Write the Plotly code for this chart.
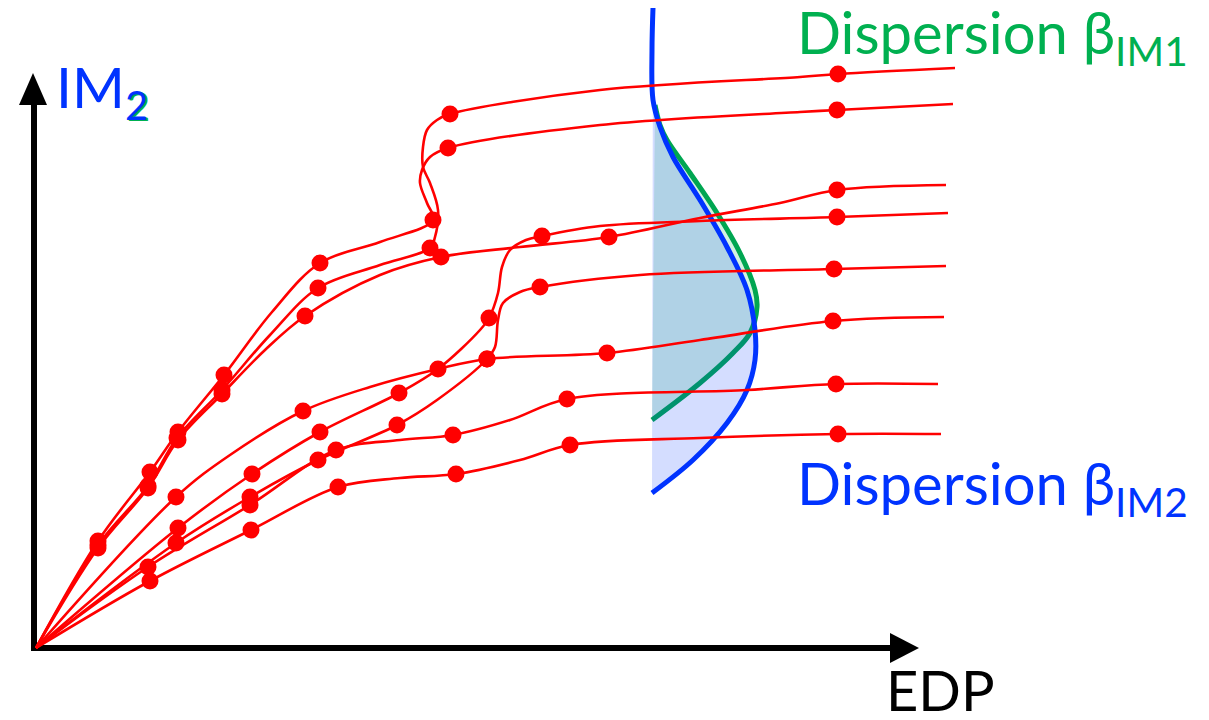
import plotly.graph_objects as go

# ---- IDA curves (EDP vs IM), knots along each curve and the indices of analysis points ----
ida1_edp = [0, 62, 114, 142, 188, 236, 284, 344, 397, 391, 384, 386, 394, 412, 564, 764, 801, 917]
ida1_im = [0, 107, 176, 216, 273, 336, 385, 406, 428, 445, 465, 478, 491, 500, 523, 536, 538, 544]
ida1_dots = [1, 2, 3, 4, 6, 8, 13, 16]

ida2_edp = [0, 62, 112, 141, 186, 234, 282, 344, 394, 399, 402, 394, 387, 387, 391, 401, 414, 564, 764, 802, 919]
ida2_im = [0, 103, 162, 210, 258, 313, 360, 383, 400, 411, 438, 465, 481, 501, 518, 528, 534, 558, 571, 574, 580]
ida2_dots = [1, 2, 3, 4, 6, 8, 16, 19]

ida3_edp = [0, 62, 112, 142, 186, 229, 269, 344, 405, 484, 573, 664, 744, 801, 910]
ida3_im = [0, 100, 160, 208, 254, 298, 332, 373, 391, 401, 411, 430, 445, 458, 463]
ida3_dots = [1, 2, 3, 4, 6, 8, 10, 13]

ida4_edp = [0, 140, 194, 267, 334, 402, 451, 571, 664, 797, 908]
ida4_im = [0, 151, 193, 237, 261, 279, 289, 295, 308, 327, 331]
ida4_dots = [1, 3, 5, 6, 7, 9]

ida5_edp = [0, 142, 216, 284, 363, 402, 444, 453, 462, 466, 474, 490, 506, 564, 664, 801, 912]
ida5_im = [0, 120, 174, 216, 255, 279, 318, 330, 355, 381, 398, 408, 412, 422, 427, 431, 435]
ida5_dots = [1, 2, 3, 4, 7, 12, 15]

ida6_edp = [0, 140, 214, 282, 361, 401, 451, 459, 462, 467, 484, 504, 604, 798, 910]
ida6_im = [0, 105, 151, 188, 223, 248, 289, 301, 328, 345, 356, 361, 373, 379, 382]
ida6_dots = [1, 2, 3, 4, 6, 11, 13]

ida7_edp = [0, 112, 214, 300, 364, 417, 474, 531, 711, 800, 902]
ida7_im = [0, 81, 143, 198, 208, 213, 228, 249, 258, 264, 264]
ida7_dots = [1, 2, 3, 5, 7, 9]

ida8_edp = [0, 114, 215, 302, 364, 420, 484, 534, 664, 802, 905]
ida8_im = [0, 67, 118, 161, 170, 174, 188, 203, 210, 214, 214]
ida8_dots = [1, 2, 3, 5, 7, 9]

# ---- IM distributions drawn sideways at a fixed EDP ----
beta_im1_edp = [619, 624, 631, 654, 681, 704, 719, 721, 714, 697, 664, 616]
beta_im1_im = [543, 523, 508, 475, 435, 395, 358, 341, 315, 295, 265, 228]

beta_im2_edp = [617, 616, 617, 624, 637, 664, 691, 711, 719, 719, 711, 691, 657, 616]
beta_im2_im = [640, 598, 548, 521, 491, 448, 401, 358, 318, 288, 258, 225, 188, 155]

curves = [
    (ida1_edp, ida1_im, ida1_dots),
    (ida2_edp, ida2_im, ida2_dots),
    (ida3_edp, ida3_im, ida3_dots),
    (ida4_edp, ida4_im, ida4_dots),
    (ida5_edp, ida5_im, ida5_dots),
    (ida6_edp, ida6_im, ida6_dots),
    (ida7_edp, ida7_im, ida7_dots),
    (ida8_edp, ida8_im, ida8_dots),
]

RED = "#FF0000"
GREEN_TXT = "#00B050"
GREEN_LINE = "#00A651"
BLUE = "#0033FF"
FONT = "Lato"

fig = go.Figure()

# distributions: green first so the blue fill tints it where they overlap
fig.add_trace(go.Scatter(
    x=beta_im1_edp, y=beta_im1_im, mode="lines", fill="toself",
    fillcolor="rgba(0,176,80,0.17)",
    line=dict(color=GREEN_LINE, width=5, shape="spline", smoothing=1.0),
    hoverinfo="skip", showlegend=False,
))
fig.add_trace(go.Scatter(
    x=beta_im2_edp, y=beta_im2_im, mode="lines", fill="toself",
    fillcolor="rgba(0,51,255,0.17)",
    line=dict(color=BLUE, width=5, shape="spline", smoothing=1.0),
    hoverinfo="skip", showlegend=False,
))

for edp, im, dots in curves:
    fig.add_trace(go.Scatter(
        x=edp, y=im, mode="lines",
        line=dict(color=RED, width=2.6, shape="spline", smoothing=1.0),
        hoverinfo="skip", showlegend=False,
    ))
for edp, im, dots in curves:
    fig.add_trace(go.Scatter(
        x=[edp[i] for i in dots], y=[im[i] for i in dots], mode="markers",
        marker=dict(color=RED, size=17, line=dict(width=0)),
        hoverinfo="skip", showlegend=False,
    ))

# axis arrows
shapes = [
    dict(type="line", x0=-2, y0=-3, x1=-2, y1=548, line=dict(color="black", width=6), layer="below"),
    dict(type="path", path="M -17,543 L 11,543 L -3,575 Z", fillcolor="black",
         line=dict(color="black", width=0), layer="below"),
    dict(type="line", x0=-5, y0=0, x1=860, y1=0, line=dict(color="black", width=6), layer="below"),
    dict(type="path", path="M 854,-15 L 854,15 L 883,0 Z", fillcolor="black",
         line=dict(color="black", width=0), layer="below"),
]


def px(xp, yp):
    return xp / 1209, 1 - yp / 720


annotations = []
# IM2 label (with the green "2" sitting just behind the blue one)
ax, ay = px(54, 90)
annotations.append(dict(
    x=ax, y=ay, xref="paper", yref="paper", xanchor="left", yanchor="middle",
    text='<span style="color:rgba(0,0,0,0)">IM</span><sub>2</sub>', showarrow=False,
    font=dict(family=FONT, size=57, color=GREEN_TXT), xshift=2, yshift=-1,
))
annotations.append(dict(
    x=ax, y=ay, xref="paper", yref="paper", xanchor="left", yanchor="middle",
    text="IM<sub>2</sub>", showarrow=False,
    font=dict(family=FONT, size=57, color=BLUE),
))
ax, ay = px(795, 36)
annotations.append(dict(
    x=ax, y=ay, xref="paper", yref="paper", xanchor="left", yanchor="middle",
    text="Dispersion β<sub>IM1</sub>", showarrow=False,
    font=dict(family=FONT, size=58, color=GREEN_TXT),
))
ax, ay = px(795, 487)
annotations.append(dict(
    x=ax, y=ay, xref="paper", yref="paper", xanchor="left", yanchor="middle",
    text="Dispersion β<sub>IM2</sub>", showarrow=False,
    font=dict(family=FONT, size=58, color=BLUE),
))
ax, ay = px(884, 689)
annotations.append(dict(
    x=ax, y=ay, xref="paper", yref="paper", xanchor="left", yanchor="middle",
    text="EDP", showarrow=False,
    font=dict(family=FONT, size=56, color="black"),
))

fig.update_layout(
    width=1209, height=720,
    margin=dict(l=0, r=0, t=0, b=0),
    paper_bgcolor="white", plot_bgcolor="white",
    xaxis=dict(range=[-36, 1173], visible=False, fixedrange=True),
    yaxis=dict(range=[-72, 648], visible=False, fixedrange=True),
    shapes=shapes,
    annotations=annotations,
    showlegend=False,
)

fig.write_html("out.html")
